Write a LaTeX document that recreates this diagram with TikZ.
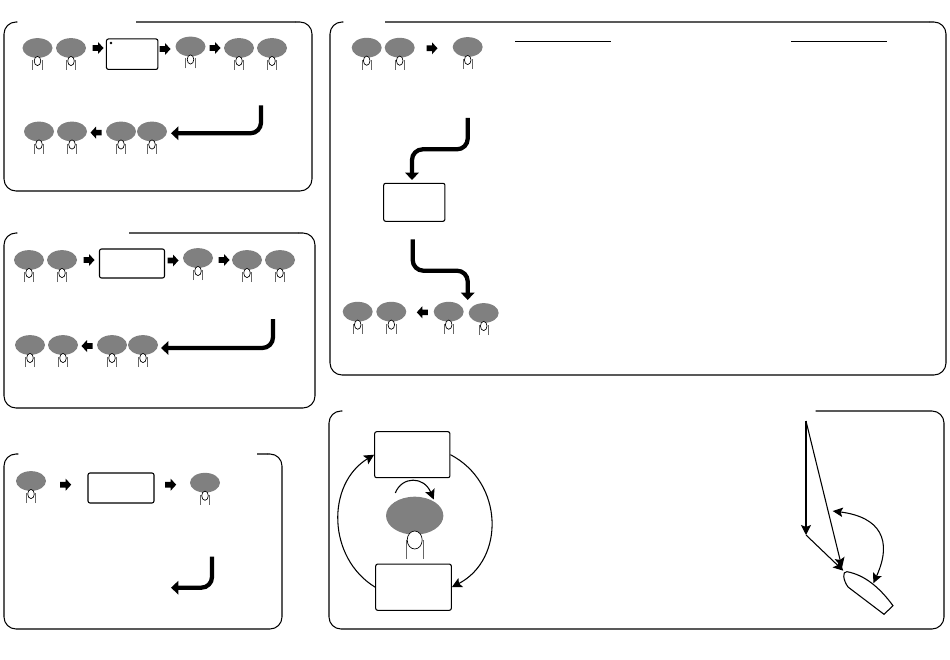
\documentclass[tikz,border=0pt]{standalone}
\usetikzlibrary{arrows.meta,shapes.geometric}
\tikzset{
  px/.style={x=.75pt,y=-.75pt},
  frameline/.style={line width=.8pt,rounded corners=9pt,line cap=round},
  frametop/.style={line width=1.1pt,draw=black!65},
  cardbox/.style={draw,line width=.8pt,rounded corners=1.5pt,inner sep=0pt,fill=white},
  btnoval/.style={ellipse,fill=black!50,minimum width=22.5pt,minimum height=14.8pt,inner sep=0pt},
  bigoval/.style={ellipse,fill=black!50,minimum width=43pt,minimum height=28.5pt,inner sep=0pt},
  fingerline/.style={draw=black!60,line width=.55pt},
  nail/.style={draw=black,fill=white,line width=.5pt},
  thickarrow/.style={line width=3.2pt,rounded corners=8pt,-{Triangle[length=5.5pt,width=10pt]}},
  thinarrow/.style={line width=.8pt,-{Stealth[length=7.5pt,width=7.5pt,inset=1.5pt]}},
  bothways/.style={line width=.8pt,{Stealth[length=7.5pt,width=7pt,inset=1.5pt]}-{Stealth[length=7.5pt,width=7pt,inset=1.5pt]}},
  boat/.style={draw,line width=.8pt,fill=white},
}
\newcommand{\btn}[3]{%
  \node[btnoval] (#1) at (#2,#3) {};
  \draw[fingerline] (#2-4.7,#3+22) -- (#2-4.7,#3+12) (#2+4.7,#3+22) -- (#2+4.7,#3+12);
  \draw[nail] (#2,#3+13) ellipse [x radius=3.3,y radius=4.6];
}
\newcommand{\arrR}[2]{\fill (#1-5.5,#2-2.8) -- (#1,#2-2.8) -- (#1,#2-6) -- (#1+5.5,#2) -- (#1,#2+6) -- (#1,#2+2.8) -- (#1-5.5,#2+2.8) -- cycle;}
\newcommand{\arrL}[2]{\fill (#1+5.5,#2-2.8) -- (#1,#2-2.8) -- (#1,#2-6) -- (#1-5.5,#2) -- (#1,#2+6) -- (#1,#2+2.8) -- (#1+5.5,#2+2.8) -- cycle;}
\newcommand{\card}[5]{\node[cardbox,minimum width=#4*.75pt,minimum height=#5*.75pt] (#1) at (#2,#3) {};}
\begin{document}
\begin{tikzpicture}[px]
\useasboundingbox (0,0) rectangle (950,660);
% Panel A
\draw[frametop] (136,22) -- (296,22);
\draw[frameline] (296,22) -- (312,22) -- (312,191) -- (4,191) -- (4,22) -- (17,22);
\btn{a1}{37.5}{48}\btn{a2}{71}{48}
\arrR{98}{48}
\card{acard}{132.2}{54.2}{51.5}{30.5}
\fill (111,43) circle (1.3);
\arrR{165}{49}
\btn{a3}{190.5}{46.5}
\arrR{215}{48}
\btn{a4}{239}{48}\btn{a5}{272}{48}
\btn{a6}{39}{131.5}\btn{a7}{72}{131.5}
\arrL{96}{132.6}
\btn{a8}{121}{131.5}\btn{a9}{152}{131.5}
\coordinate (at) at (261,105.5);
\coordinate (ac) at (261,133.3);
\draw[thickarrow] (at) -- (ac) -- (171,133.3);
% Panel B
\draw[frametop] (129,233) -- (299,233);
\draw[frameline] (299,233) -- (315,233) -- (315,408) -- (4,408) -- (4,233) -- (17,233);
\btn{b1}{29}{260}\btn{b2}{62}{260}
\arrR{89}{260}
\card{bcard}{132}{263.5}{65}{29}
\arrR{173}{260.5}
\btn{b3}{198}{258}
\arrR{224}{260}
\btn{b4}{247}{260}\btn{b5}{280}{260}
\btn{b6}{30}{345}\btn{b7}{63}{345}
\arrL{87}{346}
\btn{b8}{112}{345}\btn{b9}{143}{345}
\coordinate (bt) at (273,319);
\coordinate (bc) at (273,348);
\draw[thickarrow] (bt) -- (bc) -- (161,348);
% Panel C
\draw[frametop] (257,454) -- (268,454);
\draw[frameline] (268,454) -- (282,454) -- (282,629) -- (4,629) -- (4,454) -- (18,454);
\btn{c1}{31}{481}
\arrR{65.7}{484.7}
\card{ccard}{121}{488}{66}{30}
\arrR{170.7}{484.7}
\btn{c2}{205}{482.7}
\coordinate (ct) at (212,556.7);
\coordinate (cc) at (212,587.7);
\draw[thickarrow] (ct) -- (cc) -- (171,587.7);
% Panel D
\draw[frametop] (385,22) -- (930,22);
\draw[frameline] (930,22) -- (946,22) -- (946,375) -- (330,375) -- (330,22) -- (343,22);
\btn{d1}{366.7}{47.7}\btn{d2}{399.7}{47.7}
\arrR{432}{48.3}
\btn{d3}{467.7}{47}
\coordinate (l1a) at (515,41.3); \coordinate (l1b) at (611,41.3);
\coordinate (l2a) at (791,41.3); \coordinate (l2b) at (887,41.3);
\draw[line width=.8pt] (l1a) -- (l1b) (l2a) -- (l2b);
\card{dcard}{414.3}{202.3}{61.3}{38}
\coordinate (dt) at (467.7,118);
\coordinate (dm1) at (467.7,149.3);
\coordinate (dm2) at (412,149.3);
\coordinate (dtip) at (412,180);
\draw[thickarrow] (dt) -- (dm1) -- (dm2) -- (dtip);
\coordinate (ds) at (412.7,239.3);
\coordinate (dm3) at (412.7,270.7);
\coordinate (dm4) at (467.7,270.7);
\coordinate (dtip2) at (467.7,300);
\draw[thickarrow] (ds) -- (dm3) -- (dm4) -- (dtip2);
\btn{d4}{357.7}{311.7}\btn{d5}{391.3}{311.7}
\arrL{422.3}{312.3}
\btn{d6}{448.7}{311.7}\btn{d7}{483.7}{313}
% Panel E
\draw[frameline] (816,411) -- (944,411) -- (944,629) -- (329,629) -- (329,411) -- (342,411);
\card{etop}{412.3}{454.7}{75.3}{46}
\card{ebot}{413.5}{587.2}{75.6}{46.3}
\draw[thinarrow] (etop.east) .. controls +(53.4,27.9) and +(53.3,-27.9) .. (ebot.east);
\draw[thinarrow] (ebot.west) .. controls +(-48,-29.4) and +(-48,29.4) .. (etop.west);
\node[bigoval] (eoval) at (414.7,515.7) {};
\draw[fingerline] (406.7,559) -- (406.7,540) (423.7,559) -- (423.7,540);
\draw[nail] (414.7,540) ellipse [x radius=7.5,y radius=9];
\coordinate (ea) at (395.3,493);
\coordinate (eb) at (433.7,499.5);
\draw[thinarrow] (ea) .. controls (402,476) and (424,476) .. (eb);
% Sail diagram
\coordinate (s0) at (806,421);
\coordinate (s1) at (806,535);
\coordinate (s2) at (843.3,570.7);
\coordinate (s3) at (842,567.7);
\coordinate (s4) at (832.7,511);
\coordinate (s5) at (873.3,583.3);
\draw[thinarrow] (s0) -- (s1);
\draw[thinarrow] (s1) -- (s2);
\draw[thinarrow] (s0) -- (s3);
\draw[bothways] (s4) .. controls (880,517) and (893,540) .. (s5);
\draw[boat] (893,605.7) .. controls (880,588) and (865,575) .. (847,571.7) .. controls (842,571) and (843,580) .. (848,587) -- (884,614.3) -- cycle;
\end{tikzpicture}
\end{document}
